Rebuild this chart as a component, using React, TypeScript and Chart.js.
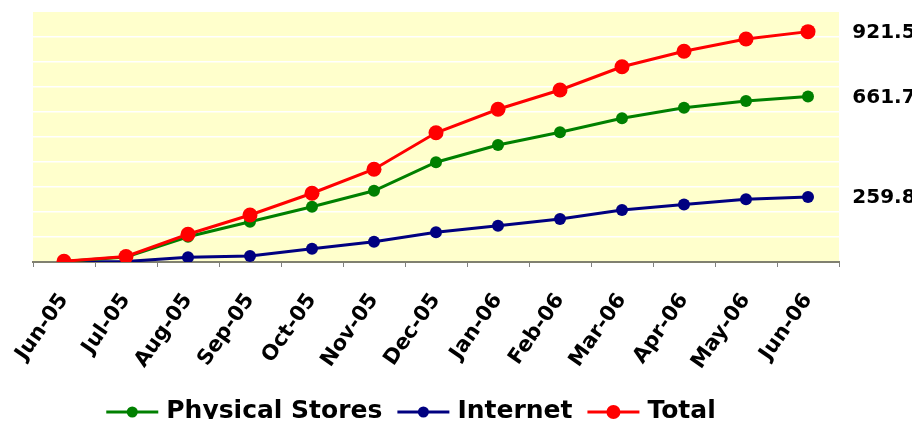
import React, { useEffect, useRef } from "react";
import { Chart, registerables } from "chart.js";

Chart.register(...registerables);

const months = ["Jun-05", "Jul-05", "Aug-05", "Sep-05", "Oct-05", "Nov-05", "Dec-05", "Jan-06", "Feb-06", "Mar-06", "Apr-06", "May-06", "Jun-06"];
const physicalStores = [2, 20, 101, 161, 221, 285, 399, 468, 519, 575, 617, 644, 661.7];
const internet = [1, 2, 19, 24, 53, 81, 119, 145, 172, 208, 230, 251, 259.8];
const total = [3, 22, 111, 188, 275, 371, 517, 611, 688, 781, 843, 892, 921.5];

const seriesNames = ["Physical Stores", "Internet", "Total"];
const seriesColors = ["#008000", "#000080", "#FF0000"];
const seriesRadius = [6, 6, 7.5];

const FONT = "'DejaVu Sans', Verdana, sans-serif";

const plotBg = {
  id: "plotBg",
  beforeDraw(chart: any) {
    const { ctx, chartArea } = chart;
    ctx.save();
    ctx.fillStyle = "#FFFFCC";
    ctx.fillRect(chartArea.left, chartArea.top, chartArea.right - chartArea.left, chartArea.bottom - chartArea.top);
    ctx.restore();
  },
};

const endLabels = {
  id: "endLabels",
  afterDatasetsDraw(chart: any) {
    const { ctx, chartArea } = chart;
    ctx.save();
    ctx.font = `bold 20px ${FONT}`;
    ctx.fillStyle = "#000";
    ctx.textAlign = "center";
    ctx.textBaseline = "middle";
    chart.data.datasets.forEach((ds: any, i: number) => {
      const meta = chart.getDatasetMeta(i);
      const last = meta.data[meta.data.length - 1];
      const v = ds.data[ds.data.length - 1];
      ctx.fillText(v.toFixed(1), chartArea.right + 45, last.y + 1);
    });
    ctx.restore();
  },
};

const customLegend = {
  id: "customLegend",
  afterDraw(chart: any) {
    const { ctx, chartArea } = chart;
    ctx.save();
    ctx.font = `bold 25px ${FONT}`;
    const lineLen = 52;
    const gapText = 8;
    const gapItem = 15;
    const widths = seriesNames.map((n) => ctx.measureText(n).width);
    const totalW = widths.reduce((a, w) => a + lineLen + gapText + w, 0) + gapItem * (seriesNames.length - 1);
    const cx = (chartArea.left + chartArea.right) / 2 - 25;
    let x = cx - totalW / 2;
    const y = chart.height - 7;
    seriesNames.forEach((name, i) => {
      ctx.strokeStyle = seriesColors[i];
      ctx.lineWidth = 3;
      ctx.beginPath();
      ctx.moveTo(x, y);
      ctx.lineTo(x + lineLen, y);
      ctx.stroke();
      ctx.fillStyle = seriesColors[i];
      ctx.beginPath();
      ctx.arc(x + lineLen / 2, y, seriesRadius[i] - 0.5, 0, Math.PI * 2);
      ctx.fill();
      ctx.fillStyle = "#000";
      ctx.textAlign = "left";
      ctx.textBaseline = "middle";
      ctx.fillText(name, x + lineLen + gapText, y - 1);
      x += lineLen + gapText + widths[i] + gapItem;
    });
    ctx.restore();
  },
};

export default function App() {
  const ref = useRef<HTMLCanvasElement>(null);
  useEffect(() => {
    if (!ref.current) return;
    const seriesData = [physicalStores, internet, total];
    const chart = new Chart(ref.current, {
      type: "line",
      data: {
        labels: months,
        datasets: seriesNames.map((name, i) => ({
          label: name,
          data: seriesData[i],
          borderColor: seriesColors[i],
          backgroundColor: seriesColors[i],
          pointBackgroundColor: seriesColors[i],
          pointBorderColor: seriesColors[i],
          pointRadius: seriesRadius[i],
          pointBorderWidth: 0,
          borderWidth: 3,
          tension: 0,
          order: [1, 2, 0][i],
        })),
      },
      options: {
        responsive: false,
        animation: false,
        layout: { autoPadding: false, padding: { left: 25, right: 73, top: 4, bottom: 7 } },
        plugins: {
          legend: { display: false },
          tooltip: { enabled: false },
        },
        scales: {
          x: {
            offset: true,
            grid: {
              offset: true,
              drawOnChartArea: false,
              drawTicks: true,
              tickLength: 5,
              color: "#808080",
            },
            border: { color: "#808070", width: 2 },
            ticks: {
              minRotation: 55,
              maxRotation: 55,
              padding: 22,
              color: "#000",
              font: { family: FONT, size: 21, weight: "bold" },
            },
            afterFit: (s: any) => {
              s.height = 150;
              s.paddingLeft = 0;
              s.paddingRight = 0;
            },
          },
          y: {
            min: 0,
            max: 1000,
            ticks: { display: false, stepSize: 100 },
            grid: {
              color: (c: any) => (c.tick && c.tick.value === 1000 ? "rgba(0,0,0,0)" : "#FFFFFF"),
              lineWidth: 1.5,
              drawTicks: false,
            },
            border: { display: false },
            afterFit: (s: any) => {
              s.width = 0;
              s.paddingTop = 0;
              s.paddingBottom = 0;
            },
          },
        },
      },
      plugins: [plotBg, endLabels, customLegend],
    });
    return () => chart.destroy();
  }, []);
  return <canvas ref={ref} width={904} height={411} style={{ display: "block" }} />;
}
